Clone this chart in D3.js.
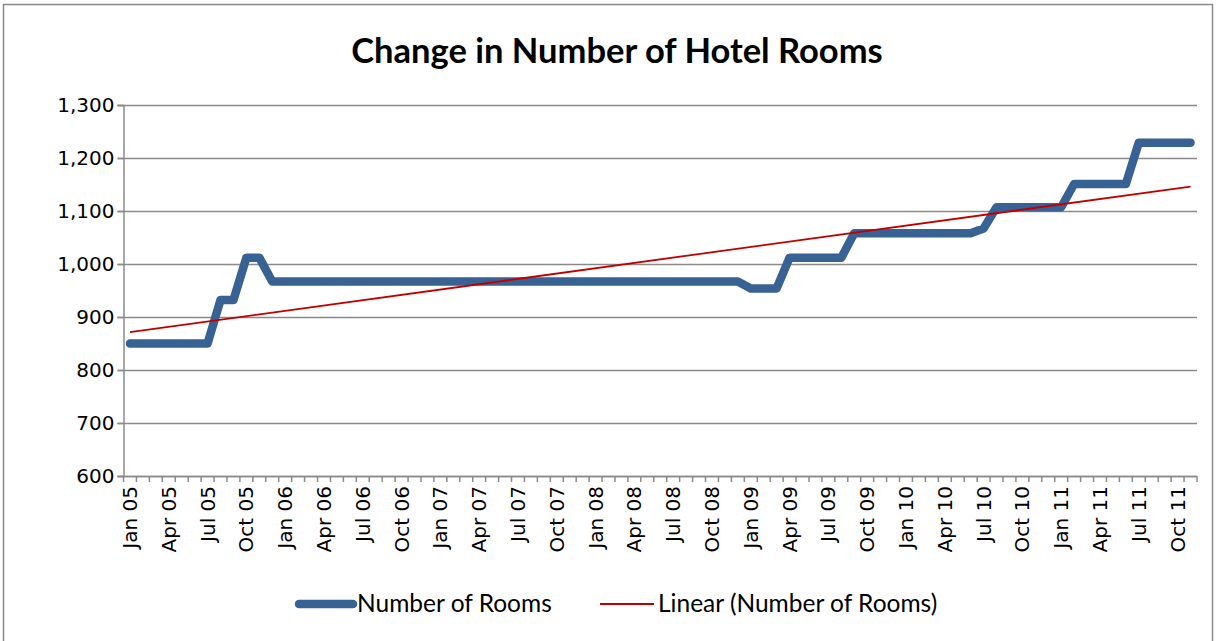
<!DOCTYPE html>
<html>
<head>
<meta charset="utf-8">
<script src="https://cdn.jsdelivr.net/npm/d3@7"></script>
<style>
  body { margin: 0; background: #fff; }
  svg { display: block; }
</style>
</head>
<body>
<script>
var width = 1217;
var height = 641;

// categories: one per month, Jan 05 .. Nov 11
var monthNames = ["Jan","Feb","Mar","Apr","May","Jun","Jul","Aug","Sep","Oct","Nov","Dec"];
var years = ["05","06","07","08","09","10","11"];
var lastMonthIndex = 10; // Nov in the last year

// number of rooms
var rooms = [
  850, 850, 850, 850, 850, 850, 850, 932, 932, 1012, 1012, 967,          // 2005
  967, 967, 967, 967, 967, 967, 967, 967, 967, 967, 967, 967,            // 2006
  967, 967, 967, 967, 967, 967, 967, 967, 967, 967, 967, 967,            // 2007
  967, 967, 967, 967, 967, 967, 967, 967, 967, 967, 967, 967,            // 2008
  954, 954, 954, 1012, 1012, 1012, 1012, 1012, 1058, 1058, 1058, 1058,   // 2009
  1058, 1058, 1058, 1058, 1058, 1058, 1067, 1107, 1107, 1107, 1107, 1107,// 2010
  1107, 1151, 1151, 1151, 1151, 1151, 1229, 1229, 1229, 1229, 1229       // 2011
];

var yTicks = [600, 700, 800, 900, 1000, 1100, 1200, 1300];
var seriesName = "Number of Rooms";
var trendName = "Linear (Number of Rooms)";
var title = "Change in Number of Hotel Rooms";

var months = [];
years.forEach(function(yy, yi) {
  monthNames.forEach(function(mm, mi) {
    if (yi == years.length - 1 && mi > lastMonthIndex) return;
    months.push(mm + " " + yy);
  });
});

var data = months.map(function(m, i) { return {month: m, value: rooms[i]}; });

var plotLeft = 123.5, plotRight = 1197, plotTop = 105, plotBottom = 476;

var x = d3.scaleBand().domain(months).range([plotLeft, plotRight]).padding(0);
var y = d3.scaleLinear().domain([600, 1300]).range([plotBottom, plotTop]);
var cx = function(m) { return x(m) + x.bandwidth() / 2; };

// least squares trend, like the Excel linear trendline
var n = data.length;
var sx = 0, sy = 0, sxy = 0, sxx = 0;
data.forEach(function(d, i) {
  var k = i + 1;
  sx += k; sy += d.value; sxy += k * d.value; sxx += k * k;
});
var slope = (n * sxy - sx * sy) / (n * sxx - sx * sx);
var icpt = (sy - slope * sx) / n;
var trend = [
  {month: months[0], value: icpt + slope * 1},
  {month: months[n - 1], value: icpt + slope * n}
];

var svg = d3.select("body").append("svg")
    .attr("width", width)
    .attr("height", height);

svg.append("rect")
  .attr("x", 3.5).attr("y", 4.5)
  .attr("width", 1209).attr("height", 700)
  .attr("fill", "#fff")
  .attr("stroke", "#888")
  .attr("stroke-width", 1.5);

svg.append("text")
  .attr("x", 617)
  .attr("y", 63)
  .attr("text-anchor", "middle")
  .style("font-family", "Lato, 'Open Sans', sans-serif")
  .style("font-weight", "bold")
  .style("font-size", "34.5px")
  .attr("fill", "#000")
  .text(title);

var gridColor = "#8a8a8a";

// gridlines
svg.append("g").selectAll("line")
  .data(yTicks)
  .enter()
  .append("line")
  .attr("x1", plotLeft - 6)
  .attr("x2", plotRight)
  .attr("y1", function(d) { return Math.round(y(d)) + 0.5; })
  .attr("y2", function(d) { return Math.round(y(d)) + 0.5; })
  .attr("stroke", gridColor)
  .attr("stroke-width", 1.5);

// y axis
var yAxis = svg.append("g")
  .attr("transform", "translate(" + plotLeft + ",0)")
  .call(d3.axisLeft(y).tickValues(yTicks).tickSize(6).tickPadding(3).tickFormat(d3.format(",")));
yAxis.select(".domain").attr("stroke", gridColor).attr("stroke-width", 1.5);
yAxis.selectAll(".tick line").attr("stroke", gridColor).attr("stroke-width", 1.5);
yAxis.selectAll("text")
  .style("font-family", "'DejaVu Sans', sans-serif")
  .style("font-size", "20px")
  .attr("fill", "#000");

// x axis: labels every 3 months, tick marks at every month boundary
var labelMonths = months.filter(function(m, i) { return i % 3 == 0; });
var xAxis = svg.append("g")
  .attr("transform", "translate(0," + plotBottom + ")")
  .call(d3.axisBottom(x).tickValues(labelMonths).tickSize(0).tickPadding(0));
xAxis.select(".domain").remove();
xAxis.selectAll("text")
  .style("font-family", "'DejaVu Sans', sans-serif")
  .style("font-size", "20px")
  .attr("fill", "#000")
  .attr("text-anchor", "end")
  .attr("dy", "0.35em")
  .attr("transform", "translate(0,10) rotate(-90)")
  .attr("x", 0)
  .attr("y", 0);

var bounds = months.map(function(m) { return x(m); }).concat([plotRight]);
svg.append("g").selectAll("line")
  .data(bounds)
  .enter()
  .append("line")
  .attr("x1", function(d) { return d; })
  .attr("x2", function(d) { return d; })
  .attr("y1", plotBottom)
  .attr("y2", plotBottom + 6)
  .attr("stroke", gridColor)
  .attr("stroke-width", 1.5);

svg.append("line")
  .attr("x1", plotLeft).attr("x2", plotRight)
  .attr("y1", plotBottom + 0.5).attr("y2", plotBottom + 0.5)
  .attr("stroke", gridColor)
  .attr("stroke-width", 1.5);

var blue = "#386194";
var red = "#c00000";

var line = d3.line()
  .x(function(d) { return cx(d.month); })
  .y(function(d) { return y(d.value); });

svg.append("path")
  .datum(data)
  .attr("d", line)
  .attr("fill", "none")
  .attr("stroke", blue)
  .attr("stroke-width", 8.5)
  .attr("stroke-linejoin", "round")
  .attr("stroke-linecap", "round");

svg.append("path")
  .datum(trend)
  .attr("d", line)
  .attr("fill", "none")
  .attr("stroke", red)
  .attr("stroke-width", 1.8);

// legend
var lg = svg.append("g").attr("class", "legend");
lg.append("line")
  .attr("x1", 299).attr("x2", 353)
  .attr("y1", 604).attr("y2", 604)
  .attr("stroke", blue)
  .attr("stroke-width", 8.5)
  .attr("stroke-linecap", "round");
lg.append("text")
  .attr("x", 357).attr("y", 612)
  .style("font-family", "Lato, 'Open Sans', sans-serif")
  .style("font-size", "24.5px")
  .text(seriesName);
lg.append("line")
  .attr("x1", 600).attr("x2", 654)
  .attr("y1", 604).attr("y2", 604)
  .attr("stroke", red)
  .attr("stroke-width", 1.8);
lg.append("text")
  .attr("x", 658).attr("y", 612)
  .style("font-family", "Lato, 'Open Sans', sans-serif")
  .style("font-size", "24.5px")
  .text(trendName);
</script>
</body>
</html>
